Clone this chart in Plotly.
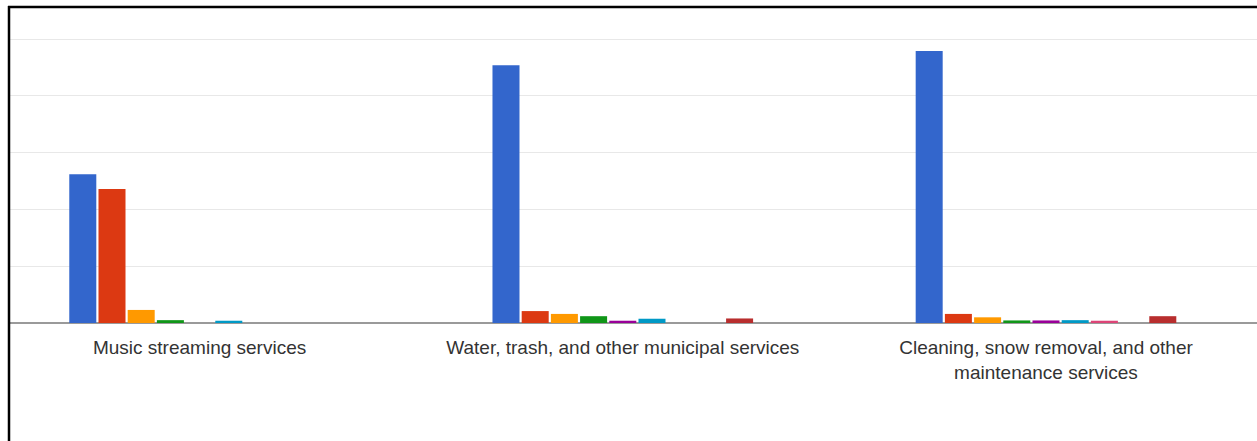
import plotly.graph_objects as go

# Service categories on the x axis
categories = [
    "Music streaming services",
    "Water, trash, and other municipal services",
    "Cleaning, snow removal, and other<br>maintenance services",
]

# One list per series (values per category)
series_1 = [26.2, 45.4, 47.9]
series_2 = [23.6, 2.1, 1.6]
series_3 = [2.3, 1.6, 1.0]
series_4 = [0.5, 1.2, 0.45]
series_5 = [0.0, 0.4, 0.45]
series_6 = [0.4, 0.75, 0.5]
series_7 = [0.0, 0.0, 0.4]
series_8 = [0.0, 0.0, 0.0]
series_9 = [0.0, 0.8, 1.2]

series_names = [f"Series {i}" for i in range(1, 10)]
series_values = [series_1, series_2, series_3, series_4, series_5,
                 series_6, series_7, series_8, series_9]
colors = ["#3366cc", "#dc3912", "#ff9900", "#109618", "#990099",
          "#0099c6", "#dd4477", "#66aa00", "#b82e2e"]

fig = go.Figure()
for name, vals, col in zip(series_names, series_values, colors):
    fig.add_trace(go.Bar(x=categories, y=vals, name=name,
                         marker=dict(color=col, line=dict(width=0))))

W, H = 1257, 441
left, top, base = 10, 9, 323
plot_h = base - top

fig.update_layout(
    width=W, height=H,
    margin=dict(l=left, r=0, t=top, b=H - base),
    paper_bgcolor="white", plot_bgcolor="white",
    barmode="group", bargap=0.379, bargroupgap=0.075,
    showlegend=False,
    font=dict(family="Liberation Sans, Arial, sans-serif", size=19, color="#333333"),
    xaxis=dict(range=[-0.448, 2.4986], showgrid=False, showline=False,
               ticks="", tickfont=dict(size=19, color="#333333"),
               ticklabelstandoff=11),
    yaxis=dict(range=[0, 55.3], dtick=10, showgrid=True, gridcolor="#e8e8e8",
               gridwidth=1, showticklabels=False, zeroline=True,
               zerolinecolor="#9a9a9a", zerolinewidth=1.5, fixedrange=True),
)

# Black frame lines along the left and top edges
px_to_x = lambda px: (px - left) / (W - left)
px_to_y = lambda py: (base - py) / plot_h
fig.add_shape(type="line", xref="paper", yref="paper",
              x0=px_to_x(9), x1=px_to_x(9), y0=px_to_y(6), y1=px_to_y(460),
              line=dict(color="black", width=2.5))
fig.add_shape(type="line", xref="paper", yref="paper",
              x0=px_to_x(8), x1=px_to_x(1300), y0=px_to_y(7), y1=px_to_y(7),
              line=dict(color="black", width=2.5))

fig.write_html("out.html")
